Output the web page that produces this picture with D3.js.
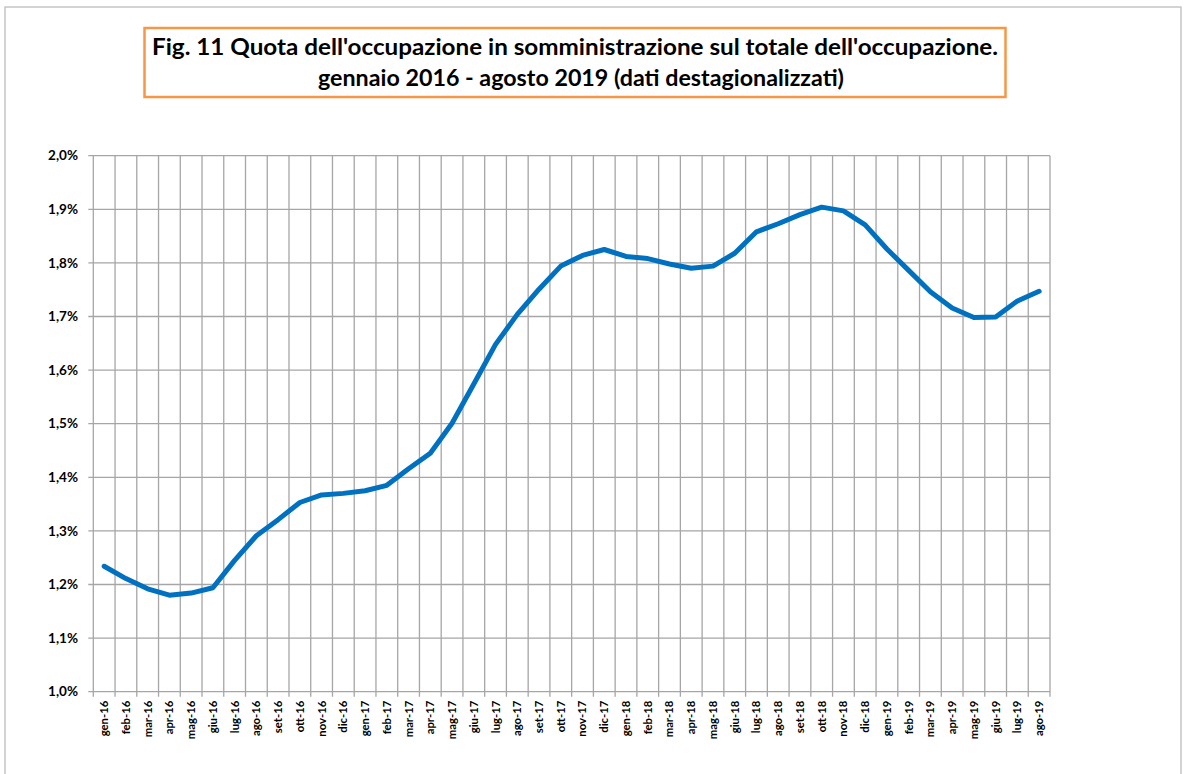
<!DOCTYPE html>
<html>
<head>
<meta charset="utf-8">
<script src="https://cdn.jsdelivr.net/npm/d3@7"></script>
<style>
  body { margin: 0; background: #fff; }
  svg { display: block; font-family: Lato, "Open Sans", sans-serif; }
</style>
</head>
<body>
<svg id="chart" width="1184" height="774"></svg>
<script>
// months on the x axis
const months = [
  'gen-16', 'feb-16', 'mar-16', 'apr-16', 'mag-16', 'giu-16', 'lug-16', 'ago-16', 'set-16', 'ott-16', 'nov-16', 'dic-16',
  'gen-17', 'feb-17', 'mar-17', 'apr-17', 'mag-17', 'giu-17', 'lug-17', 'ago-17', 'set-17', 'ott-17', 'nov-17', 'dic-17',
  'gen-18', 'feb-18', 'mar-18', 'apr-18', 'mag-18', 'giu-18', 'lug-18', 'ago-18', 'set-18', 'ott-18', 'nov-18', 'dic-18',
  'gen-19', 'feb-19', 'mar-19', 'apr-19', 'mag-19', 'giu-19', 'lug-19', 'ago-19'
];

// quota (%)
const quota = [
  1.234, 1.211, 1.192, 1.180, 1.184, 1.194, 1.245, 1.291, 1.321, 1.353, 1.367, 1.370,
  1.375, 1.385, 1.416, 1.445, 1.501, 1.574, 1.648, 1.704, 1.751, 1.794, 1.814, 1.825,
  1.812, 1.808, 1.798, 1.790, 1.794, 1.818, 1.858, 1.873, 1.890, 1.904, 1.897, 1.871,
  1.826, 1.786, 1.746, 1.716, 1.698, 1.699, 1.729, 1.747
];

const yTicks = [1.0, 1.1, 1.2, 1.3, 1.4, 1.5, 1.6, 1.7, 1.8, 1.9, 2.0];

const titleLines = [
  "Fig. 11 Quota dell'occupazione in somministrazione sul totale dell'occupazione.",
  'gennaio 2016 - agosto 2019 (dati destagionalizzati)'
];
const titleWidths = [846, 526];
const titleCenters = [575, 581];

const svg = d3.select('#chart');
const plot = { left: 93.3, right: 1050, top: 155.7, bottom: 691.7 };
const grid = '#a6a6a6';

// outer chart border
svg.append('rect')
  .attr('x', 5).attr('y', 7)
  .attr('width', 1176).attr('height', 800)
  .attr('fill', 'none')
  .attr('stroke', '#bcbcbc')
  .attr('stroke-width', 1.3);

// title box
svg.append('rect')
  .attr('x', 144.5).attr('y', 28)
  .attr('width', 861).attr('height', 69)
  .attr('fill', '#fff')
  .attr('stroke', '#f79646')
  .attr('stroke-width', 2.5);

svg.append('g')
  .selectAll('text')
  .data(titleLines)
  .join('text')
  .attr('x', (d, i) => titleCenters[i])
  .attr('y', (d, i) => 55 + i * 30.5)
  .attr('text-anchor', 'middle')
  .attr('font-weight', 'bold')
  .attr('font-size', 23)
  .attr('textLength', (d, i) => titleWidths[i])
  .attr('lengthAdjust', 'spacingAndGlyphs')
  .attr('fill', '#000')
  .text(d => d);

const x = d3.scaleBand()
  .domain(months)
  .range([plot.left, plot.right])
  .paddingInner(0)
  .paddingOuter(0);

const y = d3.scaleLinear()
  .domain([1.0, 2.0])
  .range([plot.bottom, plot.top]);

const fmt = v => d3.format('.1f')(v).replace('.', ',') + '%';

// horizontal gridlines
svg.append('g')
  .selectAll('line')
  .data(yTicks)
  .join('line')
  .attr('x1', plot.left - 5).attr('x2', plot.right)
  .attr('y1', d => y(d)).attr('y2', d => y(d))
  .attr('stroke', grid)
  .attr('stroke-width', 1.3);

// vertical gridlines / ticks on category boundaries
const edges = months.map(m => x(m)).concat([plot.right]);
svg.append('g')
  .selectAll('line')
  .data(edges)
  .join('line')
  .attr('x1', d => d).attr('x2', d => d)
  .attr('y1', plot.top).attr('y2', plot.bottom + 5)
  .attr('stroke', grid)
  .attr('stroke-width', 1.3);

// y labels
svg.append('g')
  .selectAll('text')
  .data(yTicks)
  .join('text')
  .attr('x', 78)
  .attr('y', d => y(d))
  .attr('dy', '0.35em')
  .attr('text-anchor', 'end')
  .attr('font-weight', 'bold')
  .attr('font-size', 13.5)
  .text(fmt);

// x labels, rotated
svg.append('g')
  .selectAll('text')
  .data(months)
  .join('text')
  .attr('transform', d => `translate(${x(d) + x.bandwidth() / 2}, ${plot.bottom + 9}) rotate(-90)`)
  .attr('dy', '0.35em')
  .attr('text-anchor', 'end')
  .attr('font-weight', 'bold')
  .attr('font-size', 11.3)
  .text(d => d);

// series line
const line = d3.line()
  .x((d, i) => x(months[i]) + x.bandwidth() / 2)
  .y(d => y(d));

svg.append('path')
  .datum(quota)
  .attr('d', line)
  .attr('fill', 'none')
  .attr('stroke', '#0070c0')
  .attr('stroke-width', 5)
  .attr('stroke-linejoin', 'round')
  .attr('stroke-linecap', 'round');
</script>
</body>
</html>
